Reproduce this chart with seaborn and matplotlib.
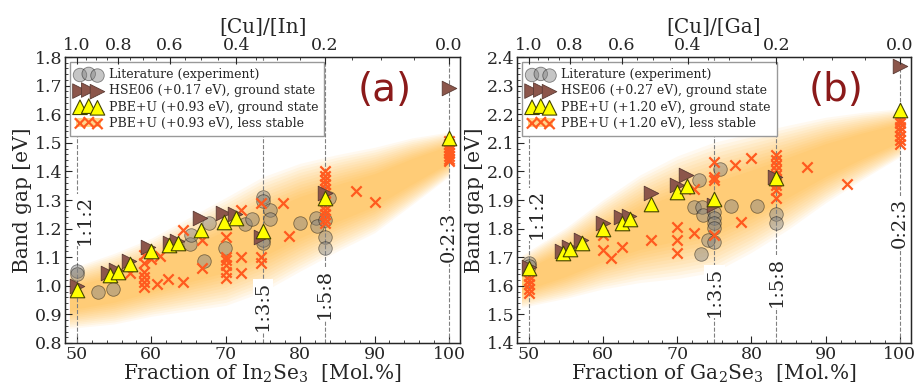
import numpy as np
import pandas as pd
import matplotlib
matplotlib.use("Agg")
import matplotlib.pyplot as plt
import seaborn as sns
from matplotlib.patches import Patch
from matplotlib.legend_handler import HandlerTuple
from matplotlib.ticker import MultipleLocator, FixedLocator

# --- data ---
# panel (a): Cu-In-Se
lit_a_x = [50, 50, 52.9, 54.9, 65.2, 65.4, 67.1, 67.7, 69.9, 72.6, 73.5, 75.0, 75.0, 75.0, 75.0, 75.9, 76.0, 80.0, 82.1, 82.2, 83.3, 83.3, 83.3, 83.9]
lit_a_y = [1.052, 1.040, 0.977, 0.989, 1.146, 1.178, 1.087, 1.218, 1.131, 1.215, 1.232, 1.310, 1.295, 1.160, 1.149, 1.265, 1.232, 1.218, 1.236, 1.209, 1.230, 1.172, 1.131, 1.308]

hse_a_x = [50, 54.2, 55.3, 57.0, 59.6, 62.5, 63.5, 66.5, 69.7, 71.2, 74.8, 83.3, 100]
hse_a_y = [1.000, 1.045, 1.057, 1.087, 1.137, 1.150, 1.155, 1.237, 1.254, 1.250, 1.172, 1.325, 1.690]

pbe_a_x = [50, 54.4, 55.5, 57.1, 60.0, 62.4, 63.6, 66.7, 69.8, 71.4, 75.0, 83.3, 100]
pbe_a_y = [0.985, 1.038, 1.050, 1.076, 1.120, 1.143, 1.149, 1.195, 1.224, 1.236, 1.190, 1.308, 1.516]

less_a_x = [57.1, 59.05, 59.05, 59.05, 59.05, 59.05, 59.05, 60.0, 60.7, 61.2, 62.2, 64.2, 64.2, 66.8, 66.8,
            70.1, 70.1, 70.1, 70.1, 70.1, 70.1, 72.1, 72.1, 72.1, 74.8, 74.8, 74.8, 77.7, 78.5,
            83.3, 83.3, 83.3, 83.3, 83.3, 83.3, 83.3, 83.3, 83.3, 83.3, 83.3, 83.3, 83.3, 87.5, 90.0,
            100, 100, 100, 100, 100, 100, 100, 100]
less_a_y = [1.045, 1.108, 1.079, 1.049, 1.032, 1.014, 0.997, 1.095, 1.008, 1.105, 1.025, 1.014, 1.195, 1.160, 1.062,
            1.172, 1.102, 1.090, 1.073, 1.049, 1.026, 1.265, 1.102, 1.044, 1.288, 1.102, 1.079, 1.288, 1.174,
            1.400, 1.385, 1.370, 1.355, 1.340, 1.325, 1.310, 1.295, 1.280, 1.265, 1.250, 1.235, 1.220, 1.333, 1.292,
            1.435, 1.445, 1.455, 1.465, 1.475, 1.485, 1.495, 1.505]

# panel (b): Cu-Ga-Se
lit_b_x = [50, 50, 72.9, 72.3, 73.3, 73.5, 74.2, 73.2, 75.0, 75.0, 75.0, 75.0, 75.0, 75.7, 77.3, 80.8, 83.3, 83.3]
lit_b_y = [1.678, 1.668, 1.970, 1.877, 1.875, 1.848, 1.760, 1.711, 1.859, 1.836, 1.818, 1.801, 1.754, 2.008, 1.879, 1.879, 1.851, 1.818]

hse_b_x = [50, 54.4, 55.4, 57.0, 60.0, 62.4, 63.5, 66.5, 69.9, 71.2, 75.0, 83.2, 100]
hse_b_y = [1.665, 1.720, 1.735, 1.760, 1.818, 1.840, 1.843, 1.923, 1.952, 1.987, 1.883, 1.980, 2.370]

pbe_b_x = [50, 54.6, 55.6, 57.2, 60.0, 62.5, 63.6, 66.5, 70.0, 71.3, 75.0, 83.3, 100]
pbe_b_y = [1.661, 1.713, 1.728, 1.751, 1.797, 1.820, 1.832, 1.886, 1.928, 1.949, 1.902, 1.978, 2.215]

less_b_x = [50, 50, 50, 50, 50, 60, 60, 61, 62.5, 66.5, 70, 70, 70, 72.2, 72.2, 75, 75, 75, 75, 77.8, 78.6, 79.9,
            83.3, 83.3, 83.3, 83.3, 83.3, 83.3, 83.3, 83.3, 83.3, 87.5, 92.9,
            100, 100, 100, 100, 100, 100, 100]
less_b_y = [1.575, 1.590, 1.605, 1.620, 1.635, 1.778, 1.725, 1.696, 1.737, 1.760, 1.807, 1.760, 1.716, 1.786, 1.940,
            2.034, 1.982, 1.970, 1.778, 2.022, 1.824, 2.046,
            2.057, 2.040, 2.022, 2.005, 1.987, 1.970, 1.952, 1.935, 1.907, 2.017, 1.956,
            2.095, 2.110, 2.125, 2.140, 2.155, 2.170, 2.180]

# shaded orange band (centre and half width)
band_x = [49, 55, 60, 65, 70, 75, 80, 85, 90, 95, 100]
band_a_c = [0.955, 0.99, 1.03, 1.075, 1.12, 1.18, 1.24, 1.29, 1.335, 1.40, 1.46]
band_a_w = [0.08, 0.095, 0.105, 0.125, 0.145, 0.155, 0.145, 0.13, 0.115, 0.09, 0.06]
band_b_c = [1.615, 1.68, 1.745, 1.80, 1.84, 1.875, 1.925, 1.98, 2.04, 2.09, 2.135]
band_b_w = [0.07, 0.095, 0.12, 0.145, 0.165, 0.175, 0.16, 0.14, 0.115, 0.09, 0.065]

phases = [50, 75, 100 * 5 / 6, 100]
phase_names = ["1:1:2", "1:3:5", "1:5:8", "0:2:3"]
ratio_ticks = [1.0, 0.8, 0.6, 0.4, 0.2, 0.0]

sns.set_style("ticks")
plt.rcParams["font.family"] = ["DejaVu Serif"]
plt.rcParams["mathtext.fontset"] = "dejavuserif"

C_LIT = "gray"
C_HSE = "#8c564b"
C_PBE = "#ffff00"
C_LESS = "#ff5a1f"
C_BAND = "#ffa500"

fig = plt.figure(figsize=(9.19, 3.88), dpi=100)
ax_a = fig.add_axes([0.0707, 0.116, 0.430, 0.737])
ax_b = fig.add_axes([0.5626, 0.116, 0.4287, 0.737])


def ratio_to_frac(r):
    return 100.0 / (1.0 + np.asarray(r))


def draw_panel(ax, lit, hse, pbe, less, band, ylim, hse_lbl, pbe_lbl, less_lbl, comp, top_lbl, tag, txt_y):
    bx = np.array(band_x)
    bc = np.array(band[0])
    bw = np.array(band[1])
    for f in np.linspace(1.3, 0.5, 12):
        ax.fill_between(bx, bc - bw * f, bc + bw * f, color=C_BAND, alpha=0.06, lw=0, zorder=0)

    for xv, name, ty in zip(phases, phase_names, txt_y):
        ax.axvline(xv, color="gray", ls="--", lw=0.8, zorder=1)
        tx = xv + 1.0 if name == "1:1:2" else xv
        ax.text(tx, ty, name, rotation=90, ha="center", va="center", fontsize=14, zorder=2,
                bbox=dict(facecolor="white", edgecolor="none", pad=1))

    sns.scatterplot(x=lit[0], y=lit[1], ax=ax, color=C_LIT, alpha=0.45, s=95, marker="o",
                    edgecolor="k", linewidth=0.6, label="Literature (experiment)", zorder=3)
    sns.scatterplot(x=less[0], y=less[1], ax=ax, color=C_LESS, s=55, marker="x",
                    linewidth=1.6, label=less_lbl, zorder=4)
    sns.scatterplot(x=hse[0], y=hse[1], ax=ax, color=C_HSE, s=110, marker=">",
                    edgecolor="#5a3a33", linewidth=0.6, label=hse_lbl, zorder=5)
    sns.scatterplot(x=pbe[0], y=pbe[1], ax=ax, color=C_PBE, s=110, marker="^",
                    edgecolor="#444400", linewidth=0.8, label=pbe_lbl, zorder=6)

    ax.set_xlim(48.4, 101.5)
    ax.set_ylim(*ylim)
    ax.xaxis.set_major_locator(MultipleLocator(10))
    ax.xaxis.set_minor_locator(MultipleLocator(2))
    ax.yaxis.set_major_locator(MultipleLocator(0.1))
    ax.yaxis.set_minor_locator(MultipleLocator(0.02))
    ax.tick_params(which="both", direction="in", labelsize=12.5, top=False, right=False, pad=2)
    ax.tick_params(which="major", length=5)
    ax.tick_params(which="minor", length=2.5)
    ax.set_xlabel("Fraction of %s  [Mol.%%]" % comp, fontsize=14.5, labelpad=0)
    ax.set_ylabel("Band gap [eV]", fontsize=14.5, labelpad=2)
    for sp in ax.spines.values():
        sp.set_linewidth(1.0)
        sp.set_color("#222222")

    top = ax.twiny()
    top.set_xlim(ax.get_xlim())
    top.set_xticks(ratio_to_frac(ratio_ticks))
    top.set_xticklabels(["%.1f" % r for r in ratio_ticks])
    top.xaxis.set_minor_locator(FixedLocator(ratio_to_frac(np.arange(0, 1.001, 0.05))))
    top.tick_params(which="both", direction="in", labelsize=12.5, pad=2)
    top.tick_params(which="major", length=5)
    top.tick_params(which="minor", length=2.5)
    top.set_xlabel(top_lbl, fontsize=14.5, labelpad=3)

    ax.text(0.81, 0.885, tag, transform=ax.transAxes, fontsize=28, color="#8b1a1a",
            family="DejaVu Sans", ha="center", va="center", zorder=7)

    h, l = ax.get_legend_handles_labels()
    d = dict(zip(l, h))
    band_patch = Patch(facecolor=C_BAND, alpha=0.45, edgecolor="none")
    ax.legend(handles=[d["Literature (experiment)"], d[hse_lbl], d[pbe_lbl], (band_patch, d[less_lbl])],
              labels=["Literature (experiment)", hse_lbl, pbe_lbl, less_lbl],
              handler_map={tuple: HandlerTuple(ndivide=1)},
              loc="upper left", scatterpoints=3, markerscale=1.0, fontsize=9, handlelength=2.0,
              fancybox=False, framealpha=1, edgecolor="#999999", borderaxespad=0.4,
              labelspacing=0.25, handletextpad=0.6, borderpad=0.5).set_zorder(8)


draw_panel(ax_a, (lit_a_x, lit_a_y), (hse_a_x, hse_a_y), (pbe_a_x, pbe_a_y), (less_a_x, less_a_y),
           (band_a_c, band_a_w), (0.8, 1.8),
           "HSE06 (+0.17 eV), ground state", "PBE+U (+0.93 eV), ground state",
           "PBE+U (+0.93 eV), less stable", "In$_2$Se$_3$", "[Cu]/[In]", "(a)",
           [1.23, 0.93, 0.97, 1.17])
draw_panel(ax_b, (lit_b_x, lit_b_y), (hse_b_x, hse_b_y), (pbe_b_x, pbe_b_y), (less_b_x, less_b_y),
           (band_b_c, band_b_w), (1.4, 2.4),
           "HSE06 (+0.27 eV), ground state", "PBE+U (+1.20 eV), ground state",
           "PBE+U (+1.20 eV), less stable", "Ga$_2$Se$_3$", "[Cu]/[Ga]", "(b)",
           [1.85, 1.58, 1.615, 1.82])

fig.savefig("out.png", dpi=100)
